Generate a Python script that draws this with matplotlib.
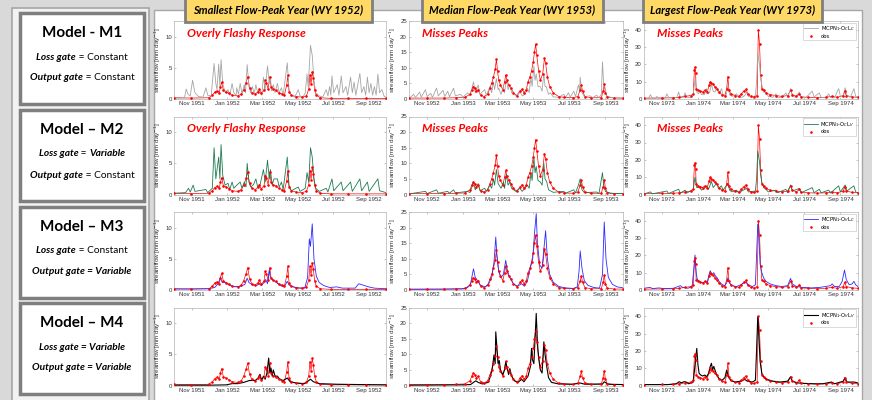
import numpy as np
import pandas as pd
import matplotlib
matplotlib.use('Agg')
import matplotlib.pyplot as plt
import matplotlib.dates as mdates
from matplotlib.patches import Rectangle

# ---- data: (day of water year, streamflow mm/day) ----
years = ['1951-10-01', '1952-10-01', '1973-10-01']
headers = ['Smallest Flow-Peak Year (WY 1952)', 'Median Flow-Peak Year (WY 1953)',
           'Largest Flow-Peak Year (WY 1973)']
ylims = [12.5, 25, 45]
yticks = [[0, 5, 10], [0, 5, 10, 15, 20, 25], [0, 10, 20, 30, 40]]

obs_1952 = [(0, 0.2), (30, 0.15), (60, 0.2), (66, 0.6), (70, 1.1), (74, 1.3), (78, 1.0), (80, 2.0), (82, 2.7),
            (85, 1.4), (90, 1.2), (95, 0.9), (100, 0.6), (110, 0.5), (116, 0.8), (120, 1.5), (124, 2.6), (127, 3.6),
            (130, 1.8), (134, 1.0), (140, 0.8), (145, 1.2), (147, 1.6), (150, 0.9), (155, 1.4), (157, 3.0),
            (159, 2.6), (162, 1.6), (165, 3.6), (167, 2.0), (170, 1.6), (175, 1.4), (180, 1.0), (186, 0.8),
            (190, 0.6), (194, 2.2), (196, 3.8), (198, 1.2), (202, 0.6), (210, 0.4), (220, 0.3), (228, 0.5),
            (232, 1.6), (234, 3.8), (236, 2.4), (238, 4.4), (240, 3.3), (242, 1.5), (245, 0.6), (252, 0.2),
            (270, 0.1), (300, 0.1), (330, 0.1), (365, 0.1)]
m1_1952 = [(0, 0.1), (18, 0.2), (21, 1.6), (24, 0.8), (28, 0.5), (32, 3.0), (36, 1.0), (42, 0.4), (50, 0.3),
           (55, 1.8), (58, 0.6), (64, 0.5), (69, 5.7), (72, 2.5), (74, 1.5), (77, 5.6), (79, 2.0), (81, 6.3),
           (84, 2.5), (88, 1.0), (93, 1.5), (96, 0.6), (100, 2.5), (103, 1.0), (107, 0.6), (108, 1.8), (111, 0.8),
           (114, 2.5), (117, 0.8), (121, 2.3), (123, 1.0), (126, 5.5), (129, 2.0), (132, 1.0), (135, 2.0),
           (138, 0.8), (141, 2.3), (144, 1.0), (148, 1.2), (151, 0.6), (154, 3.5), (157, 1.5), (161, 5.3),
           (164, 2.5), (166, 3.5), (168, 1.3), (171, 2.3), (174, 1.0), (178, 2.5), (181, 1.0), (185, 1.8),
           (188, 0.6), (195, 5.8), (198, 1.5), (202, 0.5), (208, 0.3), (214, 1.5), (217, 0.5), (222, 0.3),
           (226, 1.0), (229, 4.0), (231, 2.0), (235, 8.6), (238, 7.0), (241, 3.0), (244, 1.0), (250, 0.5),
           (256, 0.3), (262, 1.5), (265, 0.5), (268, 2.0), (270, 0.6), (272, 3.7), (275, 1.0), (281, 2.3),
           (284, 0.6), (288, 3.7), (291, 1.0), (296, 2.0), (299, 0.6), (304, 3.5), (307, 1.0), (310, 2.7),
           (313, 0.6), (320, 4.1), (323, 1.0), (327, 2.0), (330, 0.6), (333, 3.5), (336, 1.0), (339, 2.5),
           (342, 0.6), (345, 2.0), (348, 0.6), (351, 4.0), (354, 1.0), (358, 1.5), (362, 0.4), (365, 0.3)]
m2_1952 = [(0, 0.2), (20, 0.3), (25, 1.0), (28, 0.4), (33, 1.5), (36, 0.5), (55, 0.8), (58, 0.3), (66, 1.0),
           (69, 7.5), (72, 2.5), (77, 6.0), (79, 2.5), (81, 8.0), (84, 3.0), (88, 1.5), (93, 1.8), (96, 0.8),
           (100, 2.0), (103, 1.0), (108, 1.5), (114, 2.0), (117, 1.0), (121, 2.0), (124, 1.2), (126, 5.0),
           (129, 2.0), (132, 1.2), (137, 1.6), (141, 2.5), (144, 1.2), (148, 1.5), (154, 4.0), (157, 2.0),
           (161, 5.5), (164, 2.5), (166, 4.0), (169, 1.5), (172, 2.5), (178, 2.5), (181, 1.2), (185, 2.0),
           (188, 0.8), (195, 6.0), (198, 1.5), (202, 0.6), (214, 1.2), (217, 0.5), (226, 1.0), (229, 3.5),
           (232, 2.0), (235, 7.5), (238, 6.0), (241, 2.5), (244, 1.0), (250, 0.5), (262, 1.0), (265, 0.4),
           (272, 2.5), (275, 0.6), (288, 2.0), (291, 0.6), (304, 2.0), (307, 0.5), (320, 2.5), (323, 0.6),
           (333, 2.0), (336, 0.5), (351, 2.5), (354, 0.6), (365, 0.3)]
m3_1952 = [(0, 0.15), (60, 0.2), (70, 0.4), (76, 1.0), (80, 2.0), (83, 1.2), (88, 1.2), (95, 0.8), (105, 0.5),
           (115, 0.6), (122, 0.9), (126, 1.9), (129, 1.2), (135, 0.8), (142, 0.7), (147, 1.0), (150, 0.7),
           (155, 1.2), (158, 1.7), (161, 1.0), (164, 3.2), (166, 2.0), (170, 1.6), (175, 1.3), (180, 0.9),
           (186, 0.6), (190, 0.5), (195, 1.4), (198, 0.8), (205, 0.5), (215, 0.3), (225, 0.3), (230, 2.0),
           (233, 8.2), (235, 7.0), (238, 10.6), (241, 5.0), (245, 2.2), (250, 1.2), (258, 0.7), (268, 0.4),
           (280, 0.5), (290, 0.3), (300, 0.3), (312, 0.3), (318, 1.0), (325, 0.8), (335, 0.5), (345, 0.3),
           (365, 0.2)]
m4_1952 = [(0, 0.05), (60, 0.05), (90, 0.1), (100, 0.3), (110, 0.3), (120, 0.5), (130, 0.8), (140, 0.8),
           (145, 1.2), (148, 1.8), (151, 0.8), (154, 1.5), (157, 1.0), (160, 2.0), (163, 4.4), (165, 2.0),
           (167, 2.8), (169, 1.5), (171, 2.5), (174, 1.5), (178, 1.5), (182, 1.0), (188, 0.8), (195, 1.2),
           (200, 0.6), (210, 0.4), (225, 0.3), (235, 1.0), (240, 0.6), (250, 0.3), (280, 0.2), (320, 0.15),
           (365, 0.1)]

obs_1953 = [(0, 0.3), (30, 0.3), (60, 0.3), (80, 0.4), (95, 0.5), (104, 1.5), (107, 3.0), (110, 4.0), (112, 3.5),
            (115, 2.5), (118, 3.0), (122, 1.2), (128, 0.8), (134, 1.5), (138, 3.5), (141, 5.0), (144, 7.0),
            (147, 9.5), (149, 12.7), (151, 9.0), (153, 6.0), (156, 4.5), (160, 3.0), (163, 5.5), (165, 7.7),
            (167, 6.0), (170, 4.5), (174, 3.5), (178, 2.0), (184, 1.0), (190, 2.5), (193, 3.2), (196, 2.0),
            (200, 3.0), (203, 5.5), (206, 7.0), (209, 9.0), (212, 12.0), (214, 15.0), (216, 17.6), (218, 14.0),
            (221, 9.0), (224, 6.0), (228, 8.0), (231, 13.0), (233, 11.5), (236, 7.0), (240, 4.0), (246, 2.0),
            (255, 0.8), (265, 0.5), (280, 0.4), (288, 0.8), (292, 3.0), (294, 4.5), (296, 2.5), (300, 0.8),
            (310, 0.4), (328, 0.4), (331, 2.5), (333, 4.8), (335, 2.0), (338, 0.6), (350, 0.3), (365, 0.3)]
m1_1953 = [(0, 0.2), (8, 1.5), (11, 0.5), (18, 2.2), (21, 0.6), (28, 3.0), (31, 0.8), (37, 1.8), (40, 0.5),
           (47, 3.5), (50, 1.0), (58, 2.8), (61, 0.8), (66, 2.5), (69, 0.7), (76, 3.5), (79, 1.0), (88, 1.5),
           (92, 0.6), (100, 2.0), (104, 1.0), (110, 5.5), (113, 2.0), (118, 4.5), (121, 1.5), (129, 3.0),
           (132, 1.2), (138, 4.0), (141, 2.0), (144, 5.5), (146, 3.0), (149, 6.5), (152, 3.0), (153, 3.5),
           (157, 1.5), (161, 4.0), (163, 2.0), (166, 6.3), (169, 3.0), (172, 4.5), (175, 2.0), (177, 2.5),
           (182, 1.0), (189, 2.5), (193, 1.0), (198, 1.5), (202, 3.5), (205, 2.0), (208, 7.0), (210, 4.0),
           (213, 10.6), (215, 6.0), (217, 8.0), (220, 4.0), (224, 4.0), (227, 2.5), (230, 8.3), (232, 4.0),
           (234, 4.0), (238, 1.5), (241, 2.0), (246, 0.7), (255, 0.5), (264, 1.5), (267, 0.5), (272, 2.0),
           (275, 0.6), (281, 2.5), (284, 0.8), (289, 4.5), (291, 2.5), (292, 7.0), (295, 2.0), (299, 0.8),
           (309, 1.0), (313, 0.4), (320, 1.2), (324, 0.4), (328, 1.5), (330, 11.9), (332, 5.0), (334, 4.0),
           (337, 1.0), (343, 0.6), (350, 0.4), (365, 0.3)]
m2_1953 = [(0, 0.2), (28, 1.0), (31, 0.3), (47, 1.5), (50, 0.4), (66, 1.0), (69, 0.4), (76, 1.5), (79, 0.5),
           (100, 1.0), (104, 0.6), (110, 4.0), (113, 1.5), (118, 3.5), (121, 1.2), (129, 2.0), (132, 1.0),
           (138, 3.0), (141, 2.0), (144, 5.0), (146, 3.0), (149, 8.0), (152, 3.5), (157, 2.0), (161, 4.0),
           (163, 2.0), (166, 6.5), (169, 3.0), (172, 4.0), (175, 2.0), (182, 1.0), (189, 2.0), (193, 1.0),
           (202, 3.0), (205, 2.0), (208, 7.0), (210, 4.5), (213, 12.0), (215, 7.0), (217, 9.0), (220, 4.5),
           (224, 4.0), (227, 3.0), (230, 10.0), (232, 5.0), (235, 4.0), (238, 1.5), (246, 0.7), (264, 1.0),
           (267, 0.4), (281, 1.5), (284, 0.5), (289, 3.0), (292, 5.0), (295, 1.5), (299, 0.6), (320, 0.8),
           (324, 0.3), (330, 7.0), (332, 3.0), (335, 1.0), (343, 0.4), (365, 0.3)]
m3_1953 = [(0, 0.2), (90, 0.3), (100, 0.8), (105, 2.0), (110, 6.8), (113, 4.0), (117, 3.0), (122, 1.5),
           (130, 1.0), (136, 2.0), (141, 4.0), (145, 9.0), (148, 17.0), (150, 11.0), (153, 6.0), (157, 4.0),
           (161, 5.0), (165, 9.5), (168, 6.0), (172, 4.0), (178, 2.0), (185, 1.2), (192, 2.0), (197, 1.2),
           (202, 3.0), (207, 7.0), (211, 10.0), (214, 18.0), (217, 24.5), (219, 15.0), (223, 8.0), (227, 7.0),
           (231, 15.0), (233, 19.0), (236, 10.0), (240, 5.0), (246, 2.5), (255, 1.2), (265, 0.7), (280, 0.5),
           (287, 1.0), (290, 6.0), (292, 12.5), (295, 7.0), (299, 3.0), (305, 1.5), (315, 0.8), (325, 0.6),
           (330, 5.0), (333, 21.8), (336, 10.0), (340, 4.0), (347, 1.8), (355, 1.0), (365, 0.7)]
m4_1953 = [(0, 0.1), (90, 0.2), (105, 0.3), (110, 1.0), (114, 1.5), (118, 1.0), (125, 0.5), (135, 1.0),
           (139, 3.0), (142, 5.5), (145, 9.8), (147, 7.0), (148, 17.2), (150, 12.0), (152, 7.0), (154, 8.0),
           (156, 5.0), (160, 3.5), (163, 5.0), (165, 7.6), (168, 5.0), (170, 3.5), (172, 5.4), (175, 3.0),
           (180, 1.5), (186, 1.0), (192, 2.0), (196, 1.2), (203, 3.0), (207, 6.0), (209, 11.9), (211, 8.0),
           (213, 7.0), (215, 15.0), (217, 23.1), (219, 14.0), (221, 9.0), (224, 5.0), (227, 4.0), (230, 14.0),
           (232, 10.0), (235, 6.0), (238, 2.5), (243, 1.0), (255, 0.5), (280, 0.4), (292, 0.8), (300, 0.4),
           (330, 0.5), (333, 1.2), (340, 0.4), (365, 0.3)]

obs_1974 = [(0, 0.5), (30, 0.6), (50, 0.7), (60, 1.0), (70, 1.5), (80, 2.0), (84, 3.0), (86, 17.0), (87, 18.3),
            (88, 15.0), (89, 6.0), (92, 5.0), (96, 4.5), (100, 4.0), (104, 5.0), (108, 4.0), (111, 8.0),
            (113, 10.0), (115, 9.0), (118, 8.5), (121, 7.0), (124, 6.0), (128, 4.0), (133, 2.5), (138, 2.0),
            (141, 6.0), (143, 12.9), (145, 5.0), (148, 3.0), (155, 2.0), (162, 1.5), (166, 3.0), (170, 4.5),
            (174, 5.5), (177, 3.0), (182, 1.5), (188, 1.2), (193, 2.0), (195, 40.0), (197, 32.0), (199, 14.0),
            (201, 6.0), (204, 5.0), (208, 3.5), (215, 2.5), (225, 2.0), (235, 1.5), (245, 2.0), (250, 5.0),
            (253, 2.5), (260, 1.5), (265, 3.0), (268, 1.2), (280, 1.0), (295, 0.8), (310, 1.0), (320, 1.5),
            (330, 1.0), (340, 2.0), (342, 4.5), (345, 2.0), (355, 1.2), (365, 1.0)]
m1_1974 = [(0, 0.3), (8, 0.5), (11, 2.5), (14, 0.5), (20, 0.4), (22, 1.5), (25, 0.4), (36, 0.5), (39, 3.0),
           (42, 0.8), (50, 0.5), (56, 1.0), (59, 4.0), (62, 1.0), (67, 0.8), (70, 3.5), (73, 1.0), (80, 0.8),
           (84, 3.0), (87, 11.0), (90, 4.0), (93, 3.0), (95, 5.0), (98, 2.5), (103, 2.5), (107, 6.0), (110, 3.0),
           (112, 4.0), (115, 8.5), (118, 4.5), (121, 4.0), (124, 7.0), (127, 3.5), (129, 3.0), (132, 6.0),
           (135, 2.5), (140, 2.0), (143, 7.5), (146, 2.5), (150, 1.5), (158, 3.0), (161, 1.0), (167, 1.0),
           (172, 2.0), (175, 4.0), (178, 1.5), (185, 1.0), (190, 2.0), (192, 10.0), (194, 26.4), (197, 20.0),
           (199, 12.0), (201, 8.0), (204, 4.0), (208, 3.5), (212, 1.5), (220, 1.0), (225, 3.0), (228, 1.0),
           (235, 0.8), (242, 3.5), (245, 1.0), (250, 6.0), (253, 2.0), (258, 1.0), (265, 4.0), (268, 1.0),
           (276, 0.8), (287, 4.5), (290, 1.2), (299, 3.5), (302, 1.0), (310, 0.7), (315, 3.0), (318, 0.8),
           (325, 0.7), (332, 6.0), (335, 1.5), (340, 1.5), (343, 6.5), (346, 2.0), (352, 1.0), (358, 6.0),
           (361, 1.5), (365, 1.0)]
m2_1974 = [(0, 0.3), (11, 1.5), (14, 0.4), (39, 2.0), (42, 0.6), (59, 3.0), (62, 0.8), (70, 2.5), (73, 0.8),
           (84, 3.0), (87, 10.0), (90, 4.0), (95, 4.0), (98, 2.5), (107, 5.0), (110, 3.0), (115, 7.5), (118, 4.0),
           (124, 6.5), (127, 3.5), (132, 5.0), (135, 2.5), (143, 6.5), (146, 2.5), (150, 1.5), (158, 2.5),
           (161, 1.0), (175, 3.5), (178, 1.5), (190, 2.0), (192, 9.0), (194, 25.0), (197, 19.0), (199, 11.0),
           (201, 7.0), (204, 4.0), (208, 3.0), (212, 1.5), (225, 2.5), (228, 1.0), (242, 3.0), (245, 1.0),
           (250, 5.5), (253, 2.0), (265, 3.5), (268, 1.0), (287, 4.0), (290, 1.0), (299, 3.0), (302, 1.0),
           (315, 2.5), (318, 0.8), (332, 5.0), (335, 1.5), (343, 5.5), (346, 2.0), (358, 5.0), (361, 1.5),
           (365, 1.0)]
m3_1974 = [(0, 1.0), (10, 1.5), (15, 0.8), (25, 1.2), (35, 0.8), (50, 1.0), (58, 2.0), (62, 2.5), (66, 1.5),
           (75, 1.0), (82, 2.0), (85, 12.0), (87, 20.2), (89, 10.0), (91, 6.0), (95, 5.0), (100, 4.0), (105, 5.0),
           (108, 4.5), (111, 9.0), (113, 11.1), (116, 9.0), (119, 10.0), (122, 8.0), (125, 7.0), (128, 5.0),
           (132, 3.5), (137, 2.5), (141, 4.0), (143, 7.0), (146, 4.0), (150, 2.5), (158, 2.0), (165, 3.0),
           (170, 4.0), (174, 4.5), (177, 3.0), (185, 2.0), (190, 3.0), (192, 20.0), (194, 38.0), (196, 30.0),
           (198, 15.0), (201, 10.0), (204, 7.0), (208, 5.0), (215, 3.5), (225, 2.5), (235, 2.0), (245, 2.5),
           (248, 5.0), (250, 6.7), (253, 3.5), (260, 2.0), (270, 1.5), (285, 1.2), (300, 1.5), (318, 2.5),
           (321, 3.5), (325, 2.0), (333, 2.0), (338, 5.0), (342, 11.5), (345, 6.0), (350, 3.0), (355, 3.5),
           (358, 5.0), (361, 3.0), (365, 2.0)]
m4_1974 = [(0, 0.5), (40, 0.5), (55, 1.0), (60, 2.2), (64, 1.5), (68, 2.2), (72, 2.0), (76, 1.0), (84, 2.0),
           (88, 15.0), (90, 21.4), (92, 12.0), (94, 7.0), (97, 6.0), (100, 5.5), (104, 6.0), (107, 5.0),
           (110, 7.0), (113, 11.0), (115, 12.8), (117, 9.0), (119, 11.0), (121, 9.0), (124, 6.0), (128, 4.0),
           (133, 3.0), (138, 4.5), (141, 8.9), (144, 5.0), (148, 3.0), (155, 2.0), (165, 2.5), (172, 3.5),
           (176, 2.5), (185, 2.0), (190, 3.0), (192, 20.0), (194, 39.5), (196, 28.0), (198, 14.0), (201, 7.0),
           (204, 5.0), (210, 3.5), (220, 2.5), (232, 2.0), (245, 2.5), (250, 5.0), (253, 2.5), (262, 1.5),
           (275, 1.2), (290, 1.0), (305, 1.0), (320, 2.0), (325, 1.0), (340, 2.5), (343, 4.5), (346, 2.0),
           (358, 2.0), (365, 1.5)]

obs_series = [obs_1952, obs_1953, obs_1974]
model_series = [[m1_1952, m1_1953, m1_1974], [m2_1952, m2_1953, m2_1974],
                [m3_1952, m3_1953, m3_1974], [m4_1952, m4_1953, m4_1974]]
model_colors = ['#a6a6a6', '#1f7a52', '#2b2bff', '#000000']
model_labels = [r'MCPN$_1$-O$_C$L$_C$', r'MCPN$_1$-O$_C$L$_V$', r'MCPN$_1$-O$_V$L$_C$', r'MCPN$_1$-O$_V$L$_V$']
notes = [['Overly Flashy Response', 'Misses Peaks', 'Misses Peaks'],
         ['Overly Flashy Response', 'Misses Peaks', 'Misses Peaks'], None, None]

box_titles = ['Model - M1', 'Model \u2013 M2', 'Model \u2013 M3', 'Model \u2013 M4']
box_lines = [
    [[('Loss gate', 'bold', 'italic'), (' = Constant', 'normal', 'normal')],
     [('Output gate', 'bold', 'italic'), (' = Constant', 'normal', 'normal')]],
    [[('Loss gate', 'bold', 'italic'), (' = ', 'normal', 'normal'), ('Variable', 'bold', 'italic')],
     [('Output gate', 'bold', 'italic'), (' = Constant', 'normal', 'normal')]],
    [[('Loss gate', 'bold', 'italic'), (' = Constant', 'normal', 'normal')],
     [('Output gate = Variable', 'bold', 'italic')]],
    [[('Loss gate = Variable', 'bold', 'italic')],
     [('Output gate = Variable', 'bold', 'italic')]],
]

# ---- layout (pixels) ----
W, H = 872, 400
fig = plt.figure(figsize=(W / 100, H / 100), dpi=100, facecolor='#d9d9d9')


def fx(x):
    return x / W


def fy(y):
    return 1 - y / H


def rect(x0, y0, x1, y1, fc, ec, lw, z=-5):
    fig.add_artist(Rectangle((fx(x0), fy(y1)), (x1 - x0) / W, (y1 - y0) / H, transform=fig.transFigure,
                             facecolor=fc, edgecolor=ec, linewidth=lw, zorder=z))


# left panel with model boxes
rect(12, 8, 149, 402, '#f2f2f2', '#a6a6a6', 1.2)
box_tops = [13, 110, 207, 303]
for top in box_tops:
    rect(20, top, 144, top + 91, 'white', '#7f7f7f', 2.5, z=-4)

# right panel
rect(154, 10, 862, 402, 'white', '#a6a6a6', 1.0)

renderer = fig.canvas.get_renderer()


def rich_line(xc, y, runs, size):
    texts = []
    for s, w, st in runs:
        texts.append(fig.text(0, fy(y), s, fontsize=size, fontweight=w, fontstyle=st,
                              family='Lato', va='center', ha='left', color='black'))
    widths = [t.get_window_extent(renderer).width for t in texts]
    x = xc - sum(widths) / 2
    for t, w in zip(texts, widths):
        t.set_x(fx(x))
        x += w


for top, title, lines in zip(box_tops, box_titles, box_lines):
    fig.text(fx(82), fy(top + 20), title, fontsize=11, fontweight='bold', family='Lato',
             ha='center', va='center')
    rich_line(82, top + 44, lines[0], 7.3)
    rich_line(82, top + 65, lines[1], 7.3)

# axes grid
col_x = [(174, 386), (409, 623), (644, 858)]
row_top = [21, 116.5, 212, 307.5]
ax_h = 78

for r in range(4):
    for c in range(3):
        x0, x1 = col_x[c]
        y0 = row_top[r]
        ax = fig.add_axes([fx(x0), fy(y0 + ax_h), (x1 - x0) / W, ax_h / H])
        start = pd.Timestamp(years[c])
        md = model_series[r][c]
        mx = [start + pd.Timedelta(days=d) for d, v in md]
        my = [v for d, v in md]
        ob = obs_series[c]
        ox = [start + pd.Timedelta(days=d) for d, v in ob]
        oy = [v for d, v in ob]
        lw = 0.8 if r == 3 else 0.6
        ax.plot(ox, oy, color='red', lw=0.5, zorder=1)
        ax.plot(mx, my, color=model_colors[r], lw=lw, label=model_labels[r], zorder=2)
        ax.plot(ox, oy, ls='none', marker='.', ms=1.7, color='red', zorder=4, label='obs')
        ax.set_xlim(start, start + pd.Timedelta(days=365))
        ax.set_ylim(0, ylims[c])
        ax.set_yticks(yticks[c])
        ax.xaxis.set_major_locator(mdates.MonthLocator(bymonth=[11, 1, 3, 5, 7, 9]))
        ax.xaxis.set_major_formatter(mdates.DateFormatter('%b %Y'))
        ax.tick_params(direction='in', length=1.5, width=0.4, top=True, right=True,
                       labelsize=4.3, labelcolor='#333333', color='#999999', pad=1.5)
        for lab in ax.get_xticklabels() + ax.get_yticklabels():
            lab.set_family('Liberation Sans')
        for sp in ax.spines.values():
            sp.set_color('#b3b3b3')
            sp.set_linewidth(0.5)
        ax.set_ylabel('streamflow [mm day$^{-1}$]', fontsize=4.5, color='#333333', labelpad=1.5,
                      family='Liberation Sans')
        if notes[r] is not None:
            ax.text(0.06, 0.84, notes[r][c], transform=ax.transAxes, color='red', fontsize=8.6,
                    fontweight='bold', fontstyle='italic', family='Lato', va='center', ha='left')
        if c == 2:
            h, l = ax.get_legend_handles_labels()
            leg = ax.legend(h[:1] + h[-1:], l[:1] + l[-1:], loc='upper right', fontsize=3.8,
                            handlelength=2.6, borderpad=0.3, labelspacing=0.15, handletextpad=0.5,
                            fancybox=False, framealpha=1, borderaxespad=0.3)
            leg.get_frame().set_edgecolor('#c0c0c0')
            leg.get_frame().set_linewidth(0.4)

# column headers
head_x = [(185, 372), (422, 603), (643, 822)]
for (a, b), txt in zip(head_x, headers):
    rect(a, -4, b, 22, '#ffd966', '#7f7f7f', 2.0, z=5)
    fig.text(fx((a + b) / 2), fy(10), txt, fontsize=8.0, fontweight='bold', fontstyle='italic',
             family='Lato', ha='center', va='center', zorder=6)

fig.savefig('out.png', dpi=100, facecolor=fig.get_facecolor())
